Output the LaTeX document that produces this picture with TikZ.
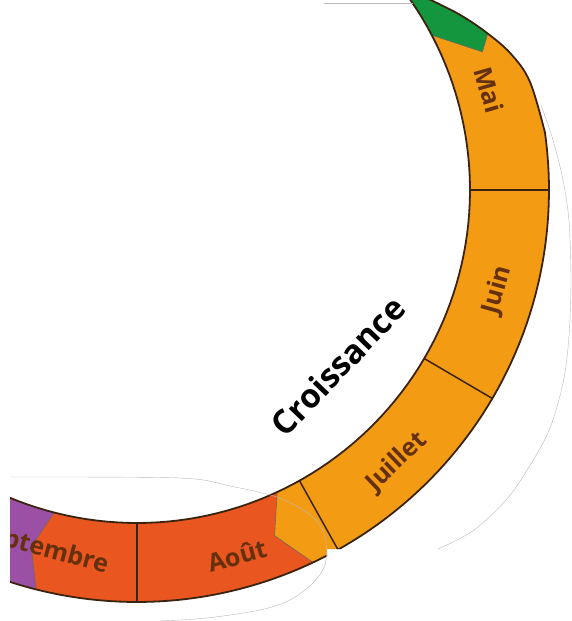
\documentclass[tikz,border=0pt]{standalone}
\usepackage{fontspec}
\setmainfont{Open Sans}
\usepackage{xcolor}
\definecolor{groworange}{RGB}{244,155,20}
\definecolor{harvestred}{RGB}{234,86,32}
\definecolor{restpurple}{RGB}{155,80,165}
\definecolor{sproutgreen}{RGB}{20,150,62}
\definecolor{ringbrown}{RGB}{58,36,16}
\definecolor{labelbrown}{RGB}{100,48,14}
\tikzset{
 monthlabel/.style={
 font=\fontsize{25}{25}\selectfont\bfseries,
 text=labelbrown,
 inner sep=0pt
 },
 phaselabel/.style={
 font=\fontsize{33}{33}\selectfont\bfseries,
 text=black,
 inner sep=0pt
 },
 ringedge/.style={draw=ringbrown, line width=1.8pt},
 divider/.style={draw=ringbrown, line width=1.5pt},
 chevronedge/.style={draw=ringbrown!70, line width=0.6pt},
 ghostline/.style={draw=gray!55, line width=0.4pt}
}
% band of the ring, relative to its centre
\newcommand{\ringband}{plot[smooth, tension=0.6] coordinates {(270,-201) (300,-187) (325,-174) (350,-157) (374,-136) (393,-108) (408,-57.3)}
 -- plot[domain=-8:118, samples=90] (\x:412)
 -- plot[domain=118:-38, samples=90] (\x:333) -- cycle}

\begin{document}
\begin{tikzpicture}[x=1pt, y=-1pt]
 \useasboundingbox (0,0) rectangle (572,621);

 \begin{scope}
 \clip (10,0) -- (572,0) -- (572,549) -- (327,549) -- (327,621) -- (10,621) -- cycle;
 \begin{scope}[shift={(137,190)}]
 \begin{scope}
 \clip \ringband;
 \fill[groworange] (-200,-300) rectangle (500,500);
 \fill[sproutgreen] (-27.7:300) -- (-27.7:333) -- (-21.8:372) -- (-24.1:384.5) -- (-27:470) -- (-60:470) -- (-60:300) -- cycle;
 \fill[harvestred] (65.1:300) -- (65.1:333) -- (68.3:372) -- (64.7:412) -- (64.7:450)
 -- (104.2:450) -- (104.2:412) -- (106.5:372) -- (104.4:333) -- (104.4:300) -- cycle;
 \fill[restpurple] (104.4:300) -- (104.4:333) -- (106.5:372) -- (104.2:412) -- (104.2:450) -- (135:450) -- (135:300) -- cycle;
 \draw[chevronedge] (-27.7:333) -- (-21.8:372) -- (-24.1:384.5);
 \draw[chevronedge] (65.1:333) -- (68.3:372) -- (64.7:412);
 \draw[chevronedge] (104.4:333) -- (106.5:372) -- (104.2:412);
 \foreach \cut in {0, 30.4, 60.8, 90}
 \draw[divider] (\cut:320) -- (\cut:425);
 \end{scope}
 \draw[ringedge] \ringband;

 \node[monthlabel, rotate=-74] (mai) at (-15.9:366) {Mai};
 \node[monthlabel, rotate=74.5] (juin) at (15.5:374) {Juin};
 \node[monthlabel, rotate=43.7] (juillet) at (46.3:376) {Juillet};
 \node[monthlabel, rotate=15.3] (aout) at (74.7:379) {Août};
 \node[monthlabel, rotate=-15] (septembre) at (104.8:372) {Septembre};
 \node[phaselabel, rotate=46.3] (croissance) at (201,176) {Croissance};
 \end{scope}
 \end{scope}

 \draw[ghostline] (324,3) -- (413,3);
 \draw[ghostline] plot[smooth, tension=0.5] coordinates {(10,477) (180,478) (230,486) (277,497) (305,511) (320,525) (326,542) (325,565) (313,583) (290,600) (260,610) (207,618) (160,621)};
 \draw[ghostline] plot[smooth, tension=0.5] coordinates {(541,105) (553,140) (563,180) (569,221) (571,280) (569,336) (563,383) (547,435) (511,494) (474,530) (438,549)};
\end{tikzpicture}
\end{document}
